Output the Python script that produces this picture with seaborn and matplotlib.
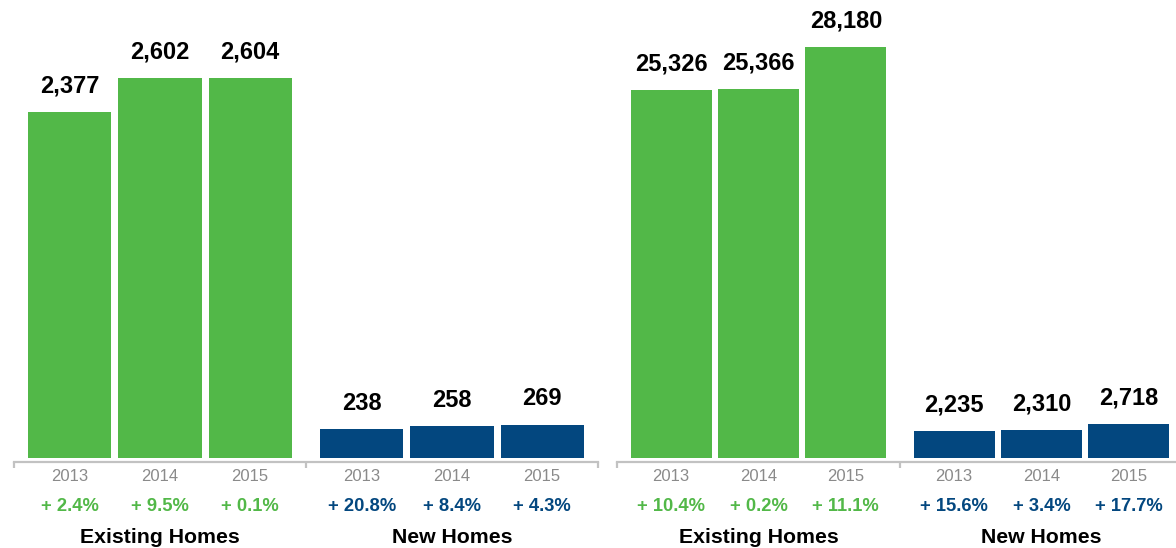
import matplotlib
matplotlib.use("Agg")
import matplotlib.pyplot as plt
import seaborn as sns
import pandas as pd

# data
years = ["2013", "2014", "2015"]
groups = ["Existing Homes", "New Homes"]

left_existing = [2377, 2602, 2604]
left_new = [238, 258, 269]
left_existing_pct = ["+ 2.4%", "+ 9.5%", "+ 0.1%"]
left_new_pct = ["+ 20.8%", "+ 8.4%", "+ 4.3%"]

right_existing = [25326, 25366, 28180]
right_new = [2235, 2310, 2718]
right_existing_pct = ["+ 10.4%", "+ 0.2%", "+ 11.1%"]
right_new_pct = ["+ 15.6%", "+ 3.4%", "+ 17.7%"]

GREEN = "#52B848"
NAVY = "#03477F"
GRAY = "#C2C2C2"
YEAR_GRAY = "#8A8A8A"

sns.set_style("white")
plt.rcParams["font.family"] = ["Liberation Sans", "DejaVu Sans"]

# bar positions: two groups of three, with a wider gap between the groups
pos = [0, 1, 2, 3.24, 4.24, 5.24]


def draw_panel(ax, existing, new, existing_pct, new_pct, ylim, width):
    df = pd.DataFrame({
        "pos": pos,
        "value": existing + new,
        "type": ["Existing Homes"] * 3 + ["New Homes"] * 3,
    })
    sns.barplot(data=df, x="pos", y="value", hue="type",
                palette={"Existing Homes": GREEN, "New Homes": NAVY},
                native_scale=True, dodge=False, width=width, saturation=1,
                errorbar=None, legend=False, ax=ax, linewidth=0)

    ax.set_xlim(-0.62, 5.86)
    ax.set_ylim(*ylim)

    # value labels above bars
    for x, v in zip(pos, existing + new):
        ax.annotate(f"{v:,}", xy=(x, v), xytext=(0, 14), textcoords="offset points",
                    ha="center", va="baseline", fontsize=17, fontweight="bold",
                    color="black")

    # year, change and group labels under the axis
    xt = ax.get_xaxis_transform()
    for x, y in zip(pos, years + years):
        ax.annotate(y, xy=(x, 0), xycoords=xt, xytext=(0, -16.5),
                    textcoords="offset points", ha="center", va="baseline",
                    fontsize=12, color=YEAR_GRAY, annotation_clip=False)
    pcts = existing_pct + new_pct
    cols = [GREEN] * 3 + [NAVY] * 3
    for x, p, c in zip(pos, pcts, cols):
        ax.annotate(p, xy=(x, 0), xycoords=xt, xytext=(0, -38.5),
                    textcoords="offset points", ha="center", va="baseline",
                    fontsize=13.2, fontweight="bold", color=c,
                    annotation_clip=False)
    for x, g in zip([pos[1], pos[4]], groups):
        ax.annotate(g, xy=(x, 0), xycoords=xt, xytext=(0, -60.9),
                    textcoords="offset points", ha="center", va="baseline",
                    fontsize=15.3, fontweight="bold", color="black",
                    annotation_clip=False)

    # bracket-like baseline
    for s in ["top", "right", "left"]:
        ax.spines[s].set_visible(False)
    ax.spines["bottom"].set_position(("outward", 3))
    ax.spines["bottom"].set_color(GRAY)
    ax.spines["bottom"].set_linewidth(1.6)
    ax.set_xticks([-0.62, 2.62, 5.86])
    ax.set_xticklabels([])
    ax.tick_params(axis="x", direction="out", length=4.5, width=1.6,
                   color=GRAY, bottom=True)
    ax.set_yticks([])
    ax.set_xlabel("")
    ax.set_ylabel("")
    ax.patch.set_alpha(0)


fig = plt.figure(figsize=(11.76, 5.48), dpi=100)
ax1 = fig.add_axes([14 / 1176, 90 / 548, 584 / 1176, 458 / 548])
ax2 = fig.add_axes([617 / 1176, 90 / 548, 566 / 1176, 458 / 548])

draw_panel(ax1, left_existing, left_new, left_existing_pct, left_new_pct,
           (44.7, 3129), 0.922)
draw_panel(ax2, right_existing, right_new, right_existing_pct, right_new_pct,
           (431, 31377), 0.928)

fig.savefig("out.png", dpi=100)
